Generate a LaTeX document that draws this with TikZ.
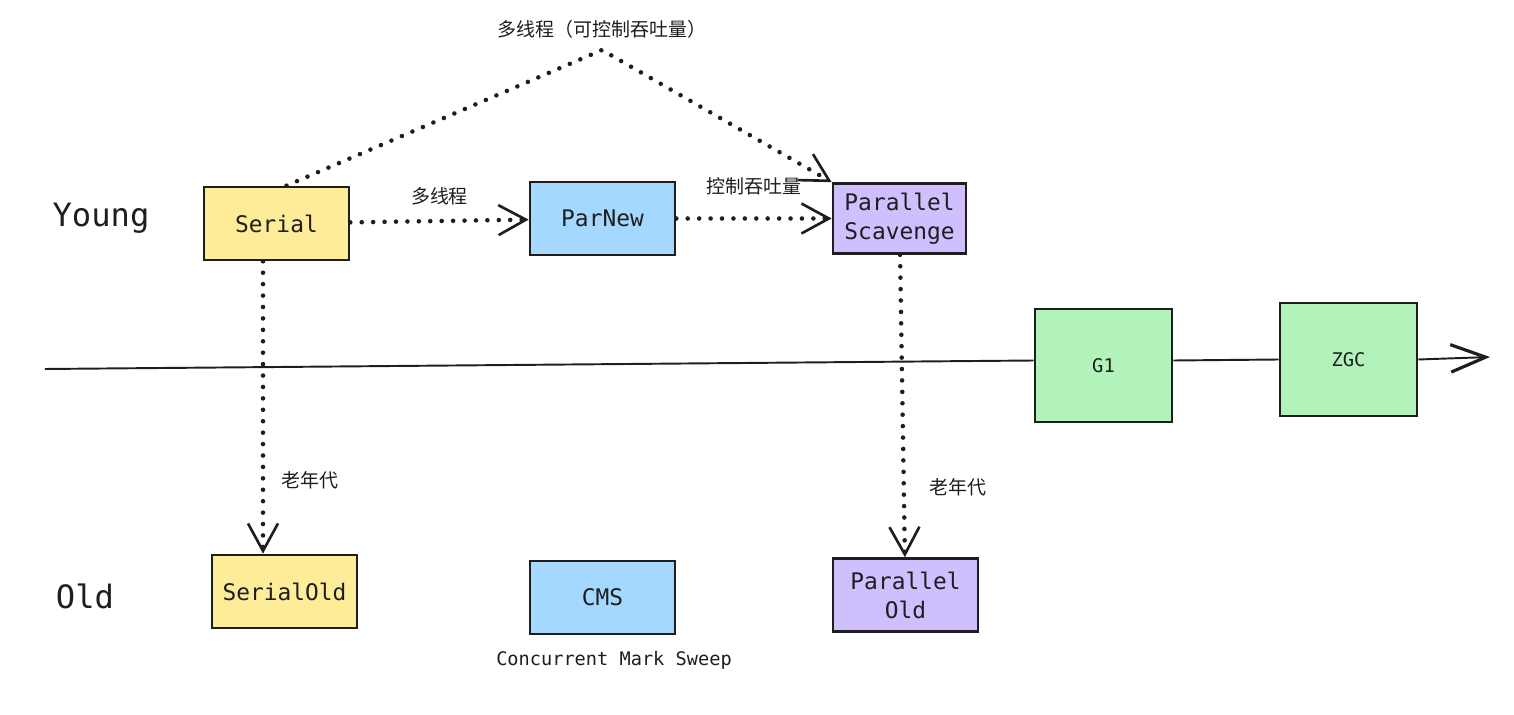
\documentclass[tikz,border=0pt]{standalone}
\usepackage{fontspec}
\setmonofont{DejaVu Sans Mono}
\newfontfamily\cjk{Noto Sans CJK SC}
\usetikzlibrary{positioning,arrows.meta}
\definecolor{ink}{HTML}{1E1E1E}
\definecolor{yel}{HTML}{FFEC99}
\definecolor{blu}{HTML}{A5D8FF}
\definecolor{pur}{HTML}{D0BFFF}
\definecolor{grn}{HTML}{B2F2BB}

\begin{document}
\begin{tikzpicture}[on grid, auto, every node/.style={text=ink},
	gc/.style={draw=ink, line width=1.5pt, minimum width=2.9cm, minimum height=1.46cm, inner sep=0pt, align=center, font=\ttfamily\fontsize{13}{16.5}\selectfont},
	big/.style={gc, minimum width=2.74cm, minimum height=2.26cm, font=\ttfamily\fontsize{10.7}{13}\selectfont},
	dots/.style={color=ink, line width=2.6pt, line cap=round, dash pattern=on 0pt off 6.5pt, -{Straight Barb[length=0.55cm, width=0.6cm, line width=1.5pt]}},
	lbl/.style={font=\cjk\fontsize{10.8}{13}\selectfont},
	gen/.style={font=\ttfamily\fontsize{18.3}{22}\selectfont}]
	      	\useasboundingbox (0,0) rectangle (30.28,14.28);
	      	
	      			\node[gc, fill=yel] (serial) at (5.53,9.81) {Serial};
	      			\node[gc, fill=blu] (par_new) [above right=0.1cm and 6.52cm of serial] {ParNew};
	      			\node[gc, fill=pur, minimum width=2.66cm, minimum height=1.4cm] (par_sc) [right=5.94cm of par_new] {Parallel\\Scavenge};
	      			\node[gc, fill=yel] (serial_old) [below right=7.36cm and 0.16cm of serial] {SerialOld};
	      			\node[gc, fill=blu] (cms) [below=7.58cm of par_new] {CMS};
	      			\node[gc, fill=pur] (par_old) [below right=7.53cm and 0.12cm of par_sc] {Parallel\\Old};
	      			\node[big, fill=grn] (g_1) at (22.07,6.97) {G1};
	      			\node[big, fill=grn] (zgc) [above right=0.12cm and 4.9cm of g_1] {ZGC};
	      			
	      			\node[gen] (young) at (2.02,9.92) {Young};
	      			\node[gen] (old) at (1.70,2.36) {Old};
	      			\node[font=\ttfamily\fontsize{10.6}{13}\selectfont] (cms_long) [below right=1.25cm and 0.23cm of cms] {Concurrent Mark Sweep};
	      			
	      			\coordinate (t_0) at (0.9,6.9);
	      			\coordinate (t_1) at (29.8,7.14);
	      			\coordinate (apex) at (12.04,13.28);
	      			\node[lbl, above=0.1cm] (multi) at (apex) {多线程（可控制吞吐量）};
	      			
	      			\draw[ink, line width=1.1pt] (t_0) -- ([yshift=0.1cm]g_1.west) ([yshift=0.1cm]g_1.east) -- (zgc.west);
	      			\draw[ink, line width=1.1pt, -{Straight Barb[length=0.7cm, width=0.55cm, line width=1.8pt]}] (zgc.east) -- (t_1);
	      			
	      			\draw[dots] ([xshift=0.2cm]serial.north) -- (apex) -- (par_sc.north west);
	      			\path[dots]
	      			(serial) 	edge node[lbl, above=0.15cm] {多线程} (par_new)
	      			([xshift=-0.27cm]serial.south) 	edge node[lbl, pos=0.75, right=0.2cm] {老年代} ([xshift=-0.43cm]serial_old.north)
	      			(par_new) 	edge node[lbl, above=0.3cm] {控制吞吐量} (par_sc)
	      			(par_sc) 	edge node[lbl, pos=0.77, right=0.35cm] {老年代} (par_old);
	      		\end{tikzpicture}
\end{document}
